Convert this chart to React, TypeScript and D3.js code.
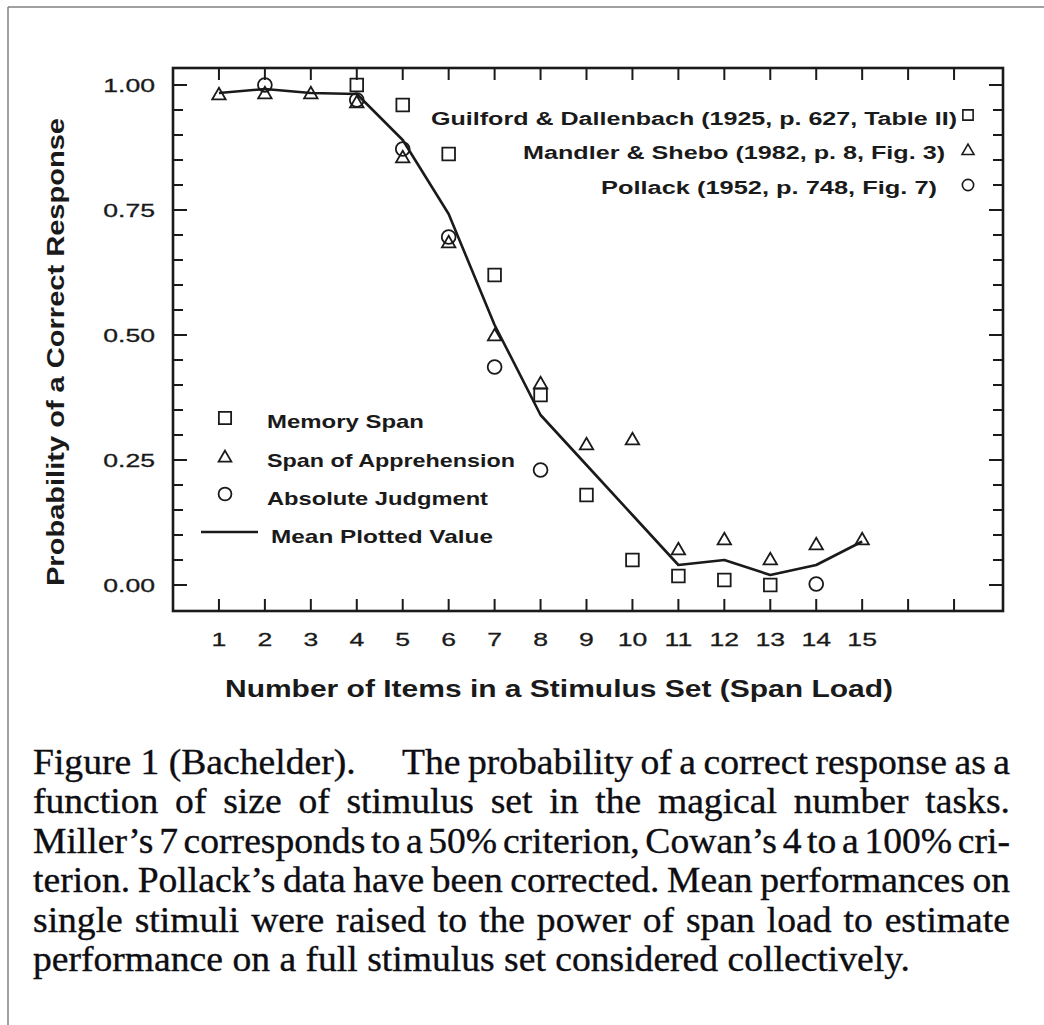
import React from 'react';
import * as d3 from 'd3';

// ---------- data ----------
const memorySpanX = [4, 5, 6, 7, 8, 9, 10, 11, 12, 13];
const memorySpanY = [1.0, 0.96, 0.862, 0.62, 0.38, 0.18, 0.05, 0.018, 0.01, 0.0];

const apprehensionX = [1, 2, 3, 4, 5, 6, 7, 8, 9, 10, 11, 12, 13, 14, 15];
const apprehensionY = [0.982, 0.984, 0.984, 0.966, 0.856, 0.686, 0.5, 0.404, 0.282, 0.292, 0.072, 0.092, 0.052, 0.082, 0.092];

const judgmentX = [2, 4, 5, 6, 7, 8, 14];
const judgmentY = [1.0, 0.97, 0.872, 0.696, 0.436, 0.23, 0.002];

const meanX = [1, 2, 3, 4, 5, 6, 7, 8, 9, 10, 11, 12, 13, 14, 15];
const meanY = [0.984, 0.992, 0.984, 0.982, 0.89, 0.742, 0.52, 0.34, 0.24, 0.14, 0.04, 0.05, 0.02, 0.04, 0.087];

const xTickValues = [1, 2, 3, 4, 5, 6, 7, 8, 9, 10, 11, 12, 13, 14, 15, 16, 17];
const xTickLabels = ['1', '2', '3', '4', '5', '6', '7', '8', '9', '10', '11', '12', '13', '14', '15'];
const yLabelValues = [0, 0.25, 0.5, 0.75, 1.0];
const yMinorValues = d3.range(0, 21).map((i) => i * 0.05);

const sourceLabels = [
  'Guilford & Dallenbach (1925, p. 627, Table II)',
  'Mandler & Shebo (1982, p. 8, Fig. 3)',
  'Pollack (1952, p. 748, Fig. 7)',
];
const taskLabels = ['Memory Span', 'Span of Apprehension', 'Absolute Judgment', 'Mean Plotted Value'];

const xTitle = 'Number of Items in a Stimulus Set (Span Load)';
const yTitle = 'Probability of a Correct Response';

const captionHead = 'Figure 1 (Bachelder).';
const captionLines = [
  'The probability of a correct response as a',
  'function of size of stimulus set in the magical number tasks.',
  'Miller\u2019s 7 corresponds to a 50% criterion, Cowan\u2019s 4 to a 100% cri-',
  'terion. Pollack\u2019s data have been corrected. Mean performances on',
  'single stimuli were raised to the power of span load to estimate',
  'performance on a full stimulus set considered collectively.',
];

// ---------- layout ----------
const W = 1044;
const H = 1025;
const frame = { left: 173, right: 1003, top: 68, bottom: 611 };
const INK = '#1a1a1a';
const SANS = '"Liberation Sans", Arial, sans-serif';
const SERIF = '"Liberation Serif", "Times New Roman", serif';

const x = d3.scaleLinear().domain([0, 18]).range([173, 1000]);
const y = d3.scaleLinear().domain([0, 1]).range([585, 85]);

const sym = (type: any, size: number) => d3.symbol().type(type).size(size)() as string;
const squarePath = sym(d3.symbolSquare, 160);
const trianglePath = sym(d3.symbolTriangle, 78);
const circlePath = sym(d3.symbolCircle, 150);
const squareSmall = sym(d3.symbolSquare, 105);
const triangleSmall = sym(d3.symbolTriangle, 62);
const circleSmall = sym(d3.symbolCircle, 100);
const squareLeg = sym(d3.symbolSquare, 150);
const triangleLeg = sym(d3.symbolTriangle, 70);
const circleLeg = sym(d3.symbolCircle, 130);

let _ctx: CanvasRenderingContext2D | null = null;
function textWidth(t: string, font: string): number {
  if (!_ctx) {
    const c = document.createElement('canvas');
    _ctx = c.getContext('2d');
  }
  if (!_ctx) return t.length * 15;
  _ctx.font = font;
  return _ctx.measureText(t).width;
}

function Caption() {
  const size = 35;
  const font = `${size}px "Liberation Serif"`;
  const left = 33;
  const right = 1010;
  const baseline0 = 774;
  const lead = 39.4;
  const last = captionLines[captionLines.length - 1];
  let sx = 877 / textWidth(last, font);
  sx = Math.max(0.8, Math.min(1.25, sx));
  const spaceW = textWidth(' ', font);

  const renderLine = (line: string, x0: number, x1: number, base: number, justify: boolean, key: string) => {
    const words = line.split(' ');
    const widths = words.map((w) => textWidth(w, font));
    const total = d3.sum(widths);
    const target = (x1 - x0) / sx;
    const gap = justify && words.length > 1 ? (target - total) / (words.length - 1) : spaceW;
    let pos = 0;
    const xs = widths.map((w) => {
      const p = pos;
      pos += w + gap;
      return p;
    });
    return (
      <text
        key={key}
        transform={`translate(${x0},${base}) scale(${sx},1)`}
        fontFamily={SERIF}
        fontSize={size}
        fill="#0d0d12"
        stroke="#0d0d12"
        strokeWidth={0.35}
      >
        {words.map((w, i) => (
          <tspan key={i} x={xs[i]}>
            {w}
          </tspan>
        ))}
      </text>
    );
  };

  return (
    <g>
      <text
        transform={`translate(${left},${baseline0}) scale(${sx},1)`}
        fontFamily={SERIF}
        fontSize={size}
        fill="#0d0d12"
        stroke="#0d0d12"
        strokeWidth={0.35}
      >
        {captionHead}
      </text>
      {captionLines.map((line, i) => {
        const base = baseline0 + i * lead;
        const x0 = i === 0 ? 402 : left;
        const justify = i < captionLines.length - 1;
        return renderLine(line, x0, right, base, justify, 'l' + i);
      })}
    </g>
  );
}

export default function App() {
  const line = d3
    .line<number>()
    .x((_, i) => x(meanX[i]))
    .y((d) => y(d));

  const tickSx = 1.4;

  return (
    <svg
      width={W}
      height={H}
      viewBox={`0 0 ${W} ${H}`}
      style={{ position: 'absolute', left: 0, top: 0, display: 'block', background: '#fff' }}
    >
      <rect x={0} y={0} width={W} height={H} fill="#fff" />
      {/* page border */}
      <line x1={8} y1={7} x2={W} y2={7} stroke="#808080" strokeWidth={1.5} />
      <line x1={8} y1={7} x2={8} y2={H} stroke="#808080" strokeWidth={1.5} />

      {/* x ticks top and bottom */}
      {xTickValues.map((v) => (
        <g key={'xt' + v} stroke={INK} strokeWidth={2}>
          <line x1={x(v)} x2={x(v)} y1={frame.bottom} y2={frame.bottom - 12} />
          <line x1={x(v)} x2={x(v)} y1={frame.top} y2={frame.top + 12} />
        </g>
      ))}
      {/* y ticks left and right */}
      {yMinorValues.map((v, i) => {
        const major = i % 5 === 0;
        const len = major ? 14 : 10;
        return (
          <g key={'yt' + i} stroke={INK} strokeWidth={2}>
            <line x1={frame.left} x2={frame.left + len} y1={y(v)} y2={y(v)} />
            <line x1={frame.right} x2={frame.right - len} y1={y(v)} y2={y(v)} />
          </g>
        );
      })}
      {/* frame */}
      <rect
        x={frame.left}
        y={frame.top}
        width={frame.right - frame.left}
        height={frame.bottom - frame.top}
        fill="none"
        stroke={INK}
        strokeWidth={2.6}
      />

      {/* tick labels */}
      {xTickLabels.map((t, i) => (
        <text
          key={'xl' + i}
          transform={`translate(${x(i + 1)},646) scale(${tickSx},1)`}
          textAnchor="middle"
          fontFamily={SANS}
          fontSize={19}
          fill={INK}
          stroke={INK}
          strokeWidth={0.3}
        >
          {t}
        </text>
      ))}
      {yLabelValues.map((v) => (
        <text
          key={'yl' + v}
          transform={`translate(155,${y(v) + 7}) scale(${tickSx},1)`}
          textAnchor="end"
          fontFamily={SANS}
          fontSize={19}
          fill={INK}
          stroke={INK}
          strokeWidth={0.3}
        >
          {d3.format('.2f')(v)}
        </text>
      ))}

      {/* axis titles */}
      <text
        x={559}
        y={697}
        textAnchor="middle"
        fontFamily={SANS}
        fontWeight="bold"
        fontSize={23}
        fill={INK}
        textLength={668}
        lengthAdjust="spacingAndGlyphs"
      >
        {xTitle}
      </text>
      <text
        transform="translate(64,352) rotate(-90)"
        textAnchor="middle"
        fontFamily={SANS}
        fontWeight="bold"
        fontSize={24}
        fill={INK}
        textLength={468}
        lengthAdjust="spacingAndGlyphs"
      >
        {yTitle}
      </text>

      {/* mean line */}
      <path d={line(meanY) as string} fill="none" stroke={INK} strokeWidth={2.6} strokeLinejoin="round" />

      {/* markers */}
      <g fill="none" stroke={INK} strokeWidth={1.8}>
        {memorySpanY.map((v, i) => (
          <path key={'s' + i} d={squarePath} transform={`translate(${x(memorySpanX[i])},${y(v)})`} />
        ))}
        {apprehensionY.map((v, i) => (
          <path key={'t' + i} d={trianglePath} transform={`translate(${x(apprehensionX[i])},${y(v) + 1.5})`} />
        ))}
        {judgmentY.map((v, i) => (
          <path key={'c' + i} d={circlePath} transform={`translate(${x(judgmentX[i])},${y(v)})`} />
        ))}
      </g>

      {/* source legend (top right) */}
      {sourceLabels.map((t, i) => {
        const ends = [957, 945, 937];
        const widths = [526, 422, 336];
        const bases = [125, 159, 194];
        return (
          <text
            key={'src' + i}
            x={ends[i]}
            y={bases[i]}
            textAnchor="end"
            fontFamily={SANS}
            fontWeight="bold"
            fontSize={18}
            fill={INK}
            textLength={widths[i]}
            lengthAdjust="spacingAndGlyphs"
          >
            {t}
          </text>
        );
      })}
      <g fill="none" stroke={INK} strokeWidth={1.6}>
        <path d={squareSmall} transform="translate(968,115)" />
        <path d={triangleSmall} transform="translate(968,151)" />
        <path d={circleSmall} transform="translate(968,185)" />
      </g>

      {/* task legend (bottom left) */}
      <g fill="none" stroke={INK} strokeWidth={1.8}>
        <path d={squareLeg} transform="translate(225,418)" />
        <path d={triangleLeg} transform="translate(225,458)" />
        <path d={circleLeg} transform="translate(225,494)" />
        <line x1={201} x2={258} y1={532} y2={532} strokeWidth={2.6} />
      </g>
      {taskLabels.map((t, i) => {
        const widths = [157, 248, 221, 222];
        const bases = [428, 467, 505, 543];
        return (
          <text
            key={'task' + i}
            x={i === 3 ? 271 : 267}
            y={bases[i]}
            fontFamily={SANS}
            fontWeight="bold"
            fontSize={18.5}
            fill={INK}
            textLength={widths[i]}
            lengthAdjust="spacingAndGlyphs"
          >
            {t}
          </text>
        );
      })}

      <Caption />
    </svg>
  );
}
